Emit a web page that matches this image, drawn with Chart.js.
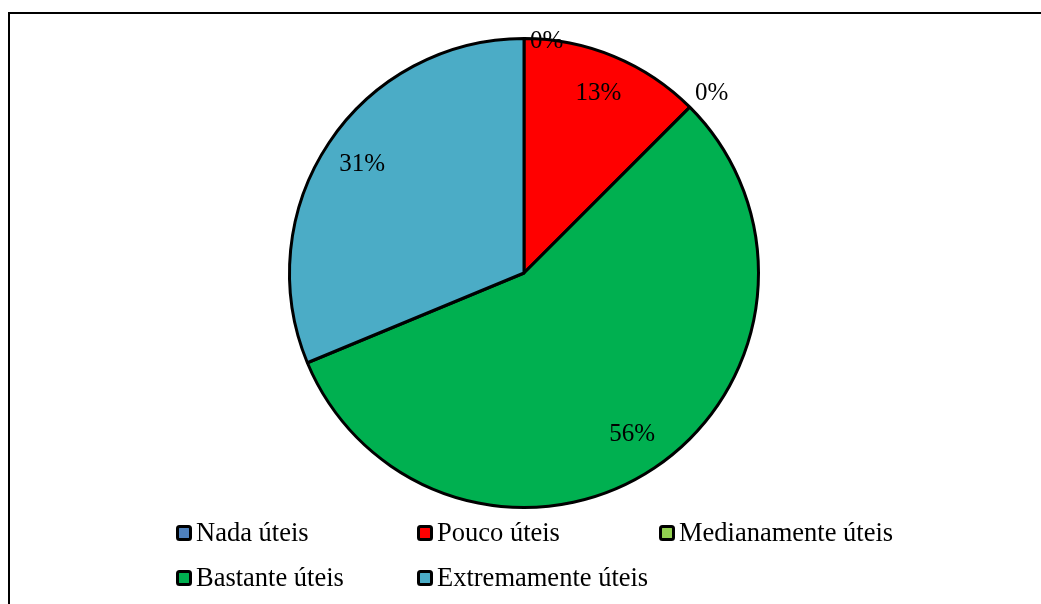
<!DOCTYPE html>
<html>
<head>
<meta charset="utf-8">
<script src="https://cdn.jsdelivr.net/npm/chart.js@4.4.1/dist/chart.umd.min.js"></script>
<style>
  html, body { margin: 0; padding: 0; background: #ffffff; }
  #wrap { position: absolute; left: 0; top: 0; width: 1041px; height: 604px; }
</style>
</head>
<body>
<div id="wrap"><canvas id="c" width="1041" height="604"></canvas></div>
<script>
const categories = ["Nada úteis", "Pouco úteis", "Medianamente úteis", "Bastante úteis", "Extremamente úteis"];
const percentages = [0, 12.5, 0, 56.25, 31.25];
const sliceColors = ["#4F81BD", "#FF0000", "#92D050", "#00B050", "#4BACC6"];

const FONT = '"Liberation Serif", "Times New Roman", serif';

const framePlugin = {
  id: 'frame',
  afterDraw(chart) {
    const ctx = chart.ctx;
    ctx.save();
    ctx.strokeStyle = '#000';
    ctx.lineWidth = 2;
    ctx.beginPath();
    ctx.moveTo(9, chart.height);
    ctx.lineTo(9, 13);
    ctx.lineTo(chart.width, 13);
    ctx.stroke();
    ctx.restore();
  }
};

const labelPlugin = {
  id: 'sliceLabels',
  afterDatasetsDraw(chart) {
    const ctx = chart.ctx;
    const meta = chart.getDatasetMeta(0);
    ctx.save();
    ctx.font = '25px ' + FONT;
    ctx.fillStyle = '#000';
    ctx.textBaseline = 'middle';
    meta.data.forEach((arc, i) => {
      const v = percentages[i];
      const txt = Math.round(v) + '%';
      const p = arc.getProps(['x', 'y', 'startAngle', 'endAngle', 'outerRadius'], true);
      const mid = (p.startAngle + p.endAngle) / 2;
      if (v > 0) {
        const r = p.outerRadius * 0.83;
        ctx.textAlign = 'center';
        ctx.fillText(txt, p.x + Math.cos(mid) * r, p.y + Math.sin(mid) * r);
      } else {
        const ax = p.x + Math.cos(mid) * p.outerRadius;
        const ay = p.y + Math.sin(mid) * p.outerRadius;
        const s = Math.cos(mid); // 0 at top, ~0.707 at 45deg
        ctx.textAlign = 'left';
        ctx.fillText(txt, ax + 6 - 1 * s, ay + 3 - 24 * s);
      }
    });
    ctx.restore();
  }
};

const legendPlugin = {
  id: 'customLegend',
  afterDraw(chart) {
    const ctx = chart.ctx;
    const colX = [176, 417, 659];
    const rowY = [533, 578];
    ctx.save();
    ctx.font = '26.5px ' + FONT;
    ctx.textBaseline = 'middle';
    ctx.textAlign = 'left';
    categories.forEach((name, i) => {
      const x = colX[i % 3];
      const y = rowY[Math.floor(i / 3)];
      ctx.fillStyle = sliceColors[i];
      ctx.strokeStyle = '#000';
      ctx.lineWidth = 3;
      ctx.beginPath();
      ctx.roundRect(x + 1.5, y - 6.5, 13, 13, 2);
      ctx.fill();
      ctx.stroke();
      ctx.fillStyle = '#000';
      ctx.fillText(name, x + 20, y + 1);
    });
    ctx.restore();
  }
};

new Chart(document.getElementById('c'), {
  type: 'pie',
  data: {
    labels: categories,
    datasets: [{
      data: percentages,
      backgroundColor: sliceColors,
      borderColor: '#000000',
      borderWidth: 3
    }]
  },
  options: {
    responsive: false,
    animation: false,
    radius: 234.5,
    layout: { padding: { top: 30, bottom: 88, left: 284, right: 277 } },
    plugins: {
      legend: { display: false },
      tooltip: { enabled: false },
      title: { display: false }
    }
  },
  plugins: [labelPlugin, legendPlugin, framePlugin]
});
</script>
</body>
</html>
